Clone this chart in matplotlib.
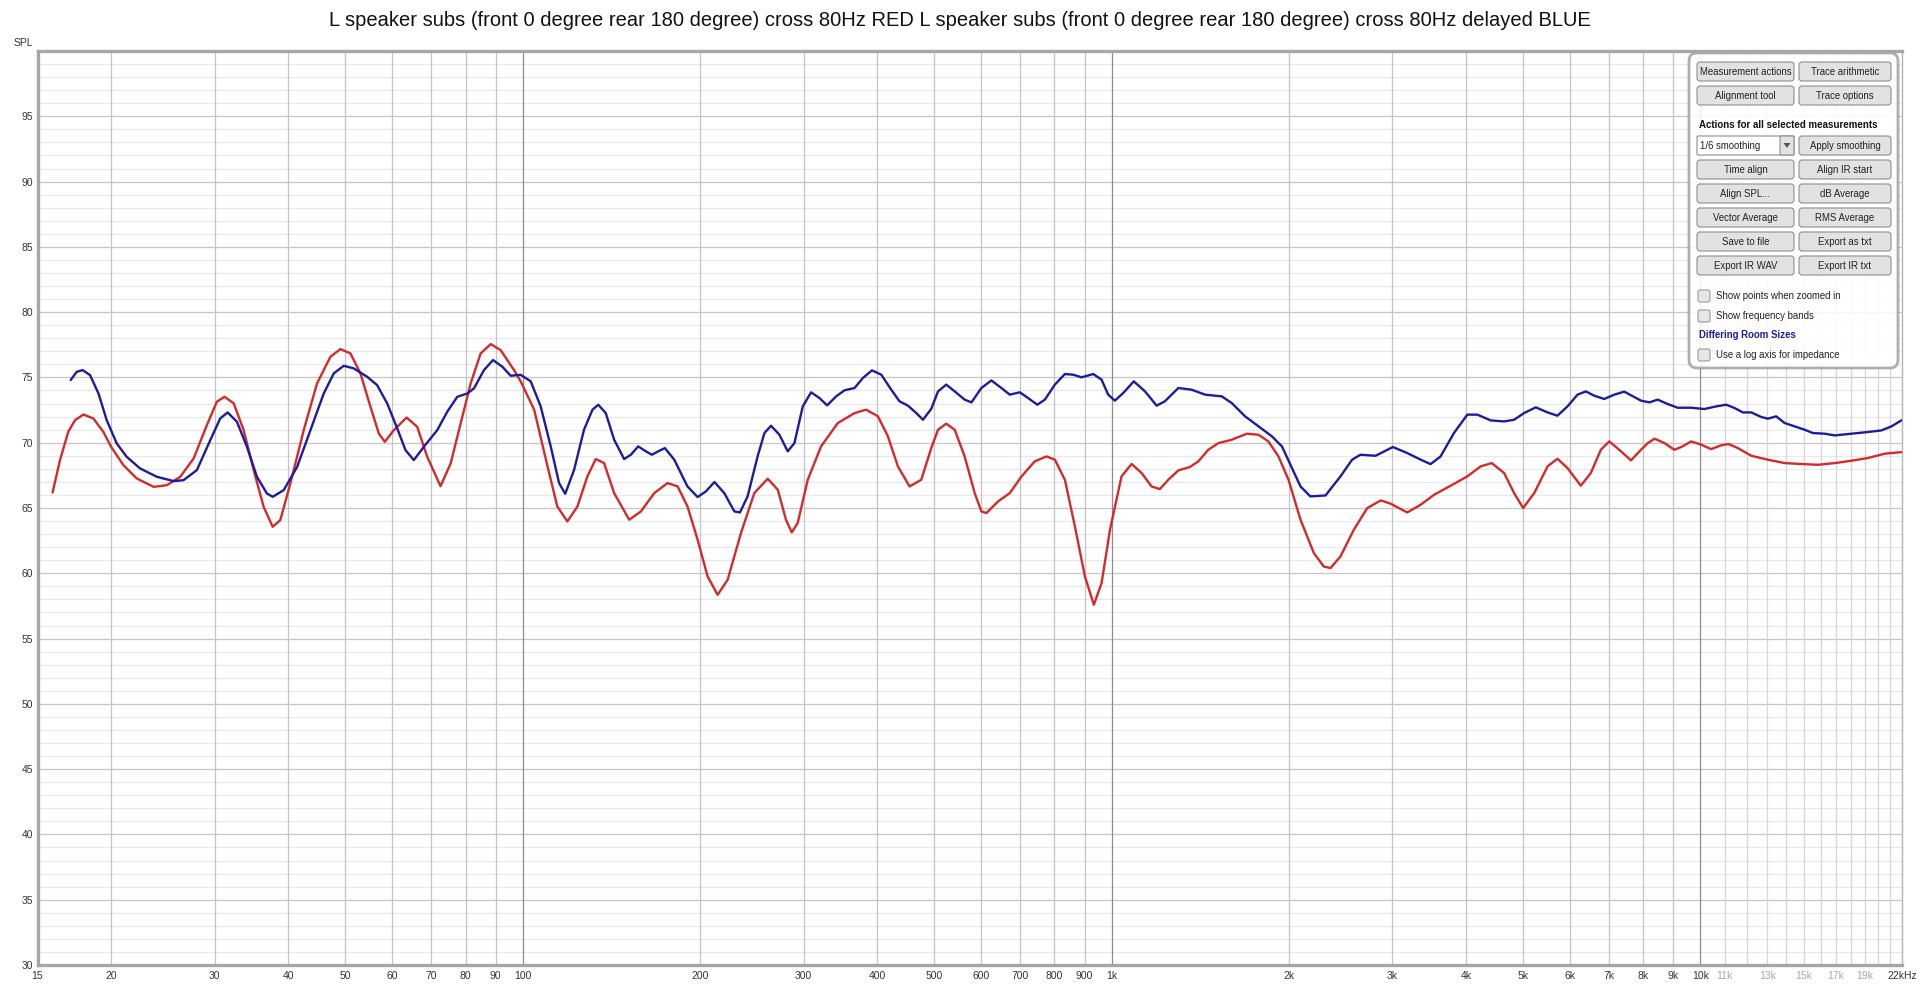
import matplotlib
matplotlib.use("Agg")
import matplotlib.pyplot as plt
from matplotlib.patches import FancyBboxPatch, Polygon
from matplotlib.transforms import IdentityTransform

# ---------------- data ----------------
title = ("L speaker subs (front 0 degree rear 180 degree) cross 80Hz RED "
         "L speaker subs (front 0 degree rear 180 degree) cross 80Hz delayed BLUE")

red_f = [15.91, 16.38, 16.92, 17.37, 17.95, 18.66, 19.40, 20.0, 20.99, 22.12, 23.62, 24.88,
         26.21, 27.62, 29.09, 30.25, 31.17, 32.31, 33.59, 34.93, 36.32, 37.63, 38.76, 40.32,
         42.48, 44.75, 47.15, 49.03, 50.99, 53.03, 55.15, 56.98, 58.33, 60.42, 63.52, 66.21,
         68.86, 72.53, 75.45, 78.47, 81.6, 84.86, 88.25, 91.76, 96.68,
         99.23, 104.6, 110.2, 114.5, 119.1, 123.9, 128.8, 133.1, 137.5, 143.0, 151.7, 158.8,
         167.3, 176.2, 183.3, 190.5, 198.2, 206.1, 214.3, 222.9, 234.8, 247.4, 260.7, 271.2,
         280.0, 286.4, 293.1, 304.9, 321.2, 342.8, 366.1, 383.1, 401.2, 417.1, 433.7, 454.0,
         475.2,
         494.3, 507.4, 524.0, 541.7, 563.1, 585.7, 601.2, 613.1, 641.6, 671.8, 703.4, 740.6,
         775.4, 801.3, 833.4, 866.6, 901.2, 933.3, 961.9, 994.0, 1040, 1081.6, 1125, 1169.6,
         1208, 1248.6, 1298.5, 1359, 1404, 1460, 1519, 1600, 1697, 1777, 1847, 1921, 1998,
         2094, 2206, 2293, 2355, 2448, 2579, 2718, 2865, 2978, 3178, 3350, 3529, 3767, 4020,
         4236, 4423, 4642, 4827, 5001, 5222, 5502, 5719, 5947, 6266, 6516, 6776, 7002, 7281,
         7623, 7928,
         8140, 8358, 8691, 9032, 9333, 9643, 10031, 10428, 10848, 11165, 11578, 12204, 13021,
         13901, 14837, 15836, 16915, 18049, 19262, 20570, 21950]
red_db = [66.19, 68.67, 70.84, 71.73, 72.16, 71.86, 70.84, 69.69, 68.28, 67.26, 66.62, 66.75,
          67.39, 68.79, 71.35, 73.14, 73.52, 73.01, 70.96, 67.9, 65.09, 63.56, 64.07, 66.88,
          70.96, 74.54, 76.58, 77.17, 76.84, 75.31, 72.75, 70.71, 70.07, 70.96, 71.93, 71.22,
          68.92, 66.67, 68.41, 71.48, 74.54, 76.84, 77.55, 77.09, 75.56,
          74.7, 72.53, 68.19, 65.12, 63.97, 65.12, 67.42, 68.75, 68.44, 66.14, 64.1, 64.74,
          66.14, 66.91, 66.65, 65.12, 62.57, 59.76, 58.35, 59.5, 63.08, 66.14, 67.24, 66.4,
          64.1, 63.13, 63.84, 67.16, 69.72, 71.5, 72.27, 72.53, 72.02, 70.49, 68.19, 66.65,
          67.16,
          69.6, 70.99, 71.46, 70.99, 68.95, 66.14, 64.74, 64.61, 65.5, 66.14, 67.42, 68.57,
          68.95, 68.7, 67.16, 63.59, 59.76, 57.59, 59.25, 63.33, 67.42, 68.37, 67.68, 66.65,
          66.45, 67.16, 67.88, 68.14, 68.57, 69.46, 69.97, 70.23, 70.69, 70.61, 70.1, 68.95, 67.16,
          64.1, 61.55, 60.52, 60.4, 61.29, 63.33, 64.99, 65.58, 65.33, 64.66, 65.25, 66.01,
          66.71, 67.42, 68.19, 68.44, 67.68, 66.14, 65.0, 66.14, 68.19, 68.77, 68.06, 66.71,
          67.68, 69.46, 70.1, 69.46, 68.65, 69.46,
          69.97, 70.31, 69.97, 69.46, 69.72, 70.1, 69.85, 69.51, 69.8, 69.9, 69.59, 69.0, 68.7,
          68.44, 68.37, 68.31, 68.44, 68.62, 68.83, 69.16, 69.28]

blue_f = [17.08, 17.48, 17.9, 18.42, 19.04, 19.66, 20.45, 21.26, 22.40, 23.92, 25.54, 26.55,
          27.97, 29.48, 30.65, 31.55, 32.72, 34.02, 35.38, 36.79, 37.63, 39.29, 41.4, 43.61,
          45.94, 47.78, 49.68, 51.67, 54.44, 56.61, 58.88, 61.24, 63.25, 65.34, 67.95, 71.6,
          74.46, 77.45, 80.54, 82.66, 85.96, 89.05, 92.37, 95.43,
          99.23, 103.2, 107.3, 111.6, 115.3, 118.1, 122.3, 127.1, 131.4, 134.4, 138.4, 143.0,
          148.7, 152.7, 157.1, 161.9, 165.7, 169.9, 174.4, 180.9, 190.5, 198.2, 204.7, 211.7,
          220.0, 228.8, 233.9, 241.0, 250.6, 257.4, 264.1, 272.9, 281.9, 289.4, 299.0, 308.9,
          319.2, 328.9, 340.7, 351.9, 366.1, 378.3, 391.9, 406.5, 422.6, 436.5, 451.1, 466.1,
          478.4,
          494.3, 507.4, 524.0, 541.7, 563.1, 578.3, 601.2, 625.2, 650.1, 671.8, 698.6, 721.8,
          748.2, 770.6, 801.3, 833.4, 860.6, 889.4, 931.1, 961.9, 987.1, 1013.3, 1047, 1091,
          1140, 1193, 1232, 1298.5, 1368, 1442, 1539, 1600, 1686, 1777, 1872, 1947,
          2013, 2094, 2176, 2309, 2448, 2562, 2647, 2808, 3005, 3178, 3350, 3482, 3621, 3815,
          4020, 4181, 4405, 4642, 4827, 5019, 5254, 5502, 5719, 5947, 6186, 6391, 6603, 6866,
          7140, 7426, 7722,
          7930, 8194, 8462, 8802, 9152, 9643, 10158, 10634, 11062, 11427, 11808, 12204, 12688,
          13021, 13450, 13901, 14456, 15027, 15527, 16257, 16915, 18049, 19262, 20293, 21109,
          21950]
blue_db = [74.8, 75.43, 75.56, 75.18, 73.77, 71.73, 69.94, 68.92, 68.03, 67.39, 67.06, 67.13,
           67.9, 70.2, 71.86, 72.32, 71.6, 69.69, 67.39, 66.11, 65.86, 66.37, 68.15, 70.96,
           73.77, 75.31, 75.89, 75.69, 75.05, 74.41, 73.01, 71.09, 69.43, 68.67, 69.69, 70.96,
           72.37, 73.52, 73.77, 74.16, 75.56, 76.33, 75.82, 75.13,
           75.2, 74.7, 72.78, 69.72, 66.91, 66.09, 67.93, 70.99, 72.53, 72.91, 72.27, 70.23,
           68.75, 69.08, 69.72, 69.34, 69.08, 69.34, 69.59, 68.7, 66.65, 65.84, 66.27, 66.99,
           66.14, 64.74, 64.66, 65.89, 68.95, 70.74, 71.3, 70.61, 69.34, 69.97, 72.78, 73.86,
           73.42, 72.86, 73.55, 74.01, 74.19, 74.96, 75.54, 75.21, 74.06, 73.17, 72.84, 72.27,
           71.76,
           72.6, 73.93, 74.45, 73.93, 73.3, 73.09, 74.19, 74.77, 74.19, 73.68, 73.86, 73.42,
           72.91, 73.3, 74.45, 75.26, 75.21, 75.01, 75.26, 74.83, 73.68, 73.22, 73.81, 74.7,
           73.93, 72.84, 73.17, 74.19, 74.06, 73.68, 73.55, 73.04, 72.02, 71.25, 70.49, 69.72,
           68.31, 66.65, 65.89, 65.96, 67.42, 68.7, 69.08, 69.0, 69.67, 69.21, 68.7, 68.36,
           68.95, 70.74, 72.15, 72.15, 71.71, 71.63, 71.76, 72.27, 72.71, 72.32, 72.07, 72.78,
           73.68, 73.93, 73.6, 73.35, 73.68, 73.91, 73.5,
           73.22, 73.09, 73.3, 72.96, 72.68, 72.68, 72.58, 72.78, 72.91, 72.66, 72.32, 72.32,
           71.97, 71.84, 72.02, 71.51, 71.25, 71.0, 70.74, 70.69, 70.56, 70.69, 70.82, 70.94,
           71.25, 71.71]

x_tick_vals = [15, 20, 30, 40, 50, 60, 70, 80, 90, 100, 200, 300, 400, 500, 600, 700, 800,
               900, 1000, 2000, 3000, 4000, 5000, 6000, 7000, 8000, 9000, 10000, 11000,
               13000, 15000, 17000, 19000, 22000]
x_tick_labels = ["15", "20", "30", "40", "50", "60", "70", "80", "90", "100", "200", "300",
                 "400", "500", "600", "700", "800", "900", "1k", "2k", "3k", "4k", "5k", "6k",
                 "7k", "8k", "9k", "10k", "11k", "13k", "15k", "17k", "19k", "22kHz"]
light_labels = ["11k", "13k", "15k", "17k", "19k"]
y_tick_vals = [30, 35, 40, 45, 50, 55, 60, 65, 70, 75, 80, 85, 90, 95]

panel_buttons = [("Measurement actions", "Trace arithmetic"),
                 ("Alignment tool", "Trace options")]
panel_heading = "Actions for all selected measurements"
panel_buttons2 = [("Time align", "Align IR start"),
                  ("Align SPL...", "dB Average"),
                  ("Vector Average", "RMS Average"),
                  ("Save to file", "Export as txt"),
                  ("Export IR WAV", "Export IR txt")]
panel_checks = ["Show points when zoomed in", "Show frequency bands"]
panel_link = "Differing Room Sizes"
panel_check_last = "Use a log axis for impedance"

# ---------------- figure ----------------
W, H = 1920, 985
plt.rcParams['font.family'] = ['Liberation Sans', 'DejaVu Sans']
fig = plt.figure(figsize=(W / 100, H / 100), dpi=100)
fig.patch.set_facecolor('white')

L, R, T, B = 37.5, 1902, 51, 965
ax = fig.add_axes([L / W, 1 - B / H, (R - L) / W, (B - T) / H])
ax.set_xscale('log')
ax.set_xlim(15, 22000)
ax.set_ylim(30, 100)
ax.set_facecolor('white')

# grid
for v in range(31, 100):
    if v % 5 == 0:
        ax.axhline(v, color='#c6c6c6', lw=0.9, zorder=1)
    else:
        ax.axhline(v, color='#e8e8e8', lw=0.9, zorder=0.9)
grid_f = [20, 30, 40, 50, 60, 70, 80, 90, 200, 300, 400, 500, 600, 700, 800, 900,
          2000, 3000, 4000, 5000, 6000, 7000, 8000, 9000]
for f in grid_f:
    ax.axvline(f, color='#c4c4c4', lw=0.9, zorder=1)
for f in [100, 1000, 10000]:
    ax.axvline(f, color='#8c8c8c', lw=0.9, zorder=1.1)
for f in range(11000, 22000, 1000):
    ax.axvline(f, color='#d6d6d6', lw=0.9, zorder=1)

ax.plot(red_f, red_db, color='#d42a2a', lw=1.7, zorder=3, solid_joinstyle='round',
        solid_capstyle='round')
ax.plot(blue_f, blue_db, color='#1c1c9c', lw=1.7, zorder=3.1, solid_joinstyle='round',
        solid_capstyle='round')

# spines
for s in ['left', 'bottom', 'top']:
    ax.spines[s].set_color('#a6a6a6')
    ax.spines[s].set_linewidth(2.4)
ax.spines['right'].set_color('#b4b4b4')
ax.spines['right'].set_linewidth(1.0)

ax.set_xticks(x_tick_vals)
ax.set_xticklabels(x_tick_labels)
ax.xaxis.set_minor_locator(matplotlib.ticker.NullLocator())
ax.set_yticks(y_tick_vals)
ax.set_yticklabels([str(v) for v in y_tick_vals])
ax.tick_params(axis='both', length=0, labelsize=7.5, colors='#333333')
ax.tick_params(axis='x', pad=4)
ax.tick_params(axis='y', pad=3)
for lab in ax.get_xticklabels():
    if lab.get_text() in light_labels:
        lab.set_color('#a8a8a8')

fig.text(23 / W, 1 - 43.5 / H, "SPL", ha='center', va='center', fontsize=7.5, color='#333333')
fig.text(0.5, 1 - 21 / H, title, ha='center', va='center', fontsize=14.5, color='#111111')

# ---------------- panel (pixel coordinates, y from top) ----------------
tr = IdentityTransform()


def rbox(x0, y0, x1, y1, fc, ec, lw=0.8, r=3, alpha=1.0, z=10):
    p = FancyBboxPatch((x0, H - y1), x1 - x0, y1 - y0,
                       boxstyle=f"round,pad=0,rounding_size={r}",
                       transform=tr, facecolor=fc, edgecolor=ec, lw=lw,
                       alpha=alpha, zorder=z)
    fig.patches.append(p)


def ptext(x, y, s, ha='center', **kw):
    fig.text(x, H - y, s, transform=tr, ha=ha, va='center', zorder=20, **kw)


rbox(1689, 53, 1898, 368, 'white', '#a4a4a4', lw=2.0, r=8, alpha=0.88, z=9)

c1 = (1697, 1794)
c2 = (1799, 1891)
btn_fs = 6.9


def button(col, y0, y1, label):
    rbox(col[0], y0, col[1], y1, '#e2e2e2', '#8e8e8e', lw=0.8, r=3)
    ptext((col[0] + col[1]) / 2, (y0 + y1) / 2 + 0.5, label, fontsize=btn_fs, color='#222222')


rows1 = [(62, 81), (86, 105)]
for (y0, y1), (a, b) in zip(rows1, panel_buttons):
    button(c1, y0, y1, a)
    button(c2, y0, y1, b)

ptext(1699, 125, panel_heading, ha='left', fontsize=7.0, fontweight='bold', color='#111111')

# dropdown
rbox(1697, 136, 1794, 155, 'white', '#8e8e8e', lw=0.8, r=1)
rbox(1780, 136, 1794, 155, '#e2e2e2', '#8e8e8e', lw=0.8, r=1)
fig.patches.append(Polygon([(1783.5, H - 143), (1790.5, H - 143), (1787, H - 148)],
                           closed=True, transform=tr, facecolor='#555555',
                           edgecolor='none', zorder=12))
ptext(1700, 146, "1/6 smoothing", ha='left', fontsize=btn_fs, color='#222222')
button(c2, 136, 155, "Apply smoothing")

rows2 = [(160, 179), (184, 203), (208, 227), (232, 251), (256, 275)]
for (y0, y1), (a, b) in zip(rows2, panel_buttons2):
    button(c1, y0, y1, a)
    button(c2, y0, y1, b)


def checkbox(y, label):
    rbox(1698, y - 6, 1710, y + 6, '#e6e6e6', '#9a9a9a', lw=0.8, r=2)
    ptext(1716, y, label, ha='left', fontsize=btn_fs, color='#222222')


checkbox(296, panel_checks[0])
checkbox(316, panel_checks[1])
ptext(1699, 335, panel_link, ha='left', fontsize=6.9, fontweight='bold', color='#1a1aa8')
checkbox(355, panel_check_last)

fig.savefig('out.png', dpi=100, facecolor='white')
